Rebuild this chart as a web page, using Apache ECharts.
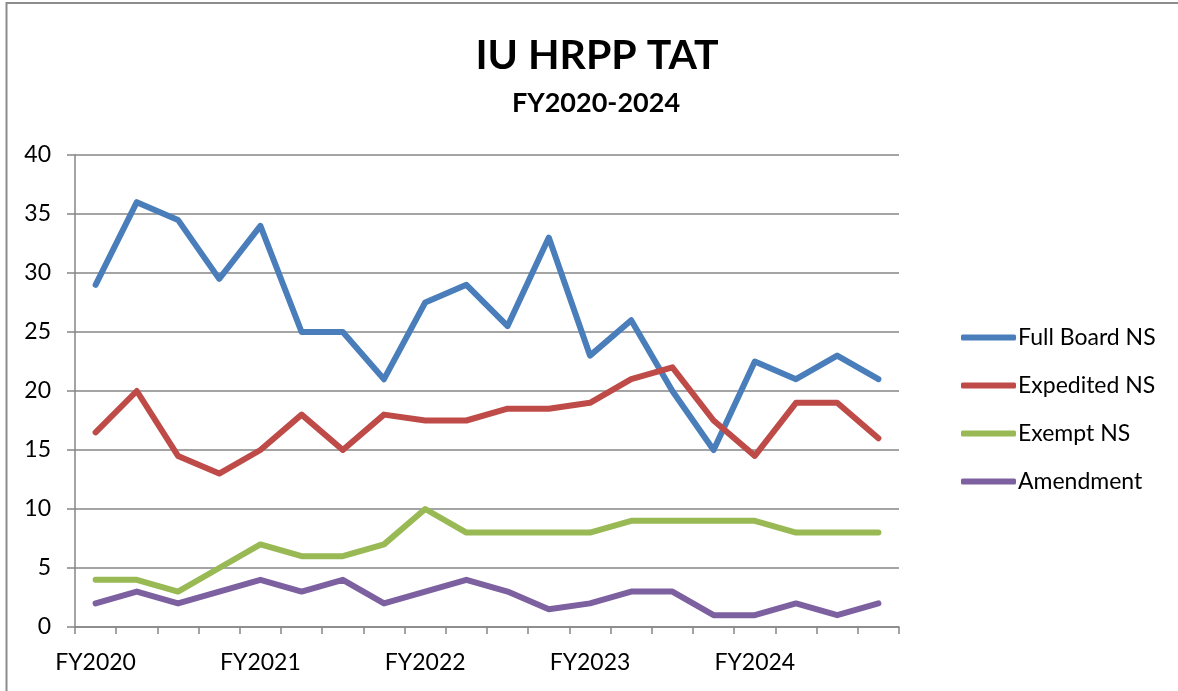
<!DOCTYPE html>
<html>
<head>
    <meta charset="utf-8">
    <title>IU HRPP TAT</title>
    <script src="https://cdn.jsdelivr.net/npm/echarts@6/dist/echarts.min.js"></script>
    <style>
        html, body { margin: 0; padding: 0; background: #fff; }
        #main { width: 1178px; height: 691px; }
    </style>
</head>
<body>
<div id="main"></div>
<script>
    // quarters FY2020 Q1 .. FY2024 Q4
    var quarters = [
        'FY2020 Q1', 'FY2020 Q2', 'FY2020 Q3', 'FY2020 Q4',
        'FY2021 Q1', 'FY2021 Q2', 'FY2021 Q3', 'FY2021 Q4',
        'FY2022 Q1', 'FY2022 Q2', 'FY2022 Q3', 'FY2022 Q4',
        'FY2023 Q1', 'FY2023 Q2', 'FY2023 Q3', 'FY2023 Q4',
        'FY2024 Q1', 'FY2024 Q2', 'FY2024 Q3', 'FY2024 Q4'
    ];
    var fullBoard = [29, 36, 34.5, 29.5, 34, 25, 25, 21, 27.5, 29, 25.5, 33, 23, 26, 20, 15, 22.5, 21, 23, 21];
    var expedited = [16.5, 20, 14.5, 13, 15, 18, 15, 18, 17.5, 17.5, 18.5, 18.5, 19, 21, 22, 17.5, 14.5, 19, 19, 16];
    var exempt = [4, 4, 3, 5, 7, 6, 6, 7, 10, 8, 8, 8, 8, 9, 9, 9, 9, 8, 8, 8];
    var amendment = [2, 3, 2, 3, 4, 3, 4, 2, 3, 4, 3, 1.5, 2, 3, 3, 1, 1, 2, 1, 2];
    var seriesNames = ['Full Board NS', 'Expedited NS', 'Exempt NS', 'Amendment'];

    var font = 'Lato, Carlito, Calibri, sans-serif';
    var gray = '#868686';

    function line(name, data, color) {
        return {
            name: name,
            type: 'line',
            data: data,
            symbol: 'none',
            color: color,
            lineStyle: { width: 6, color: color, cap: 'round', join: 'round' }
        };
    }

    var chart = echarts.init(document.getElementById('main'));
    chart.setOption({
        animation: false,
        textStyle: { fontFamily: font },
        title: [
            {
                text: 'IU HRPP TAT',
                left: 592, top: 30, textAlign: 'center',
                textStyle: { fontFamily: font, fontSize: 41, fontWeight: 'bold', color: '#000' }
            },
            {
                text: 'FY2020-2024',
                left: 591, top: 85, textAlign: 'center',
                textStyle: { fontFamily: font, fontSize: 27, fontWeight: 'bold', color: '#000' }
            }
        ],
        graphic: [{
            type: 'rect',
            shape: { x: 6.5, y: 3, width: 1300, height: 800 },
            style: { fill: 'none', stroke: '#8c8c8c', lineWidth: 2 },
            silent: true
        }],
        legend: {
            orient: 'vertical',
            left: 956, top: 321,
            itemWidth: 55, itemHeight: 6, itemGap: 25,
            icon: 'roundRect',
            textStyle: { fontFamily: font, fontSize: 23, color: '#000', padding: [0, 0, 0, -3] },
            data: seriesNames
        },
        grid: { left: 75, right: 279, top: 155, bottom: 64, containLabel: false },
        xAxis: {
            type: 'category',
            data: quarters,
            boundaryGap: true,
            axisLine: { lineStyle: { color: gray, width: 1.5 } },
            axisTick: { show: true, interval: 0, length: 7, lineStyle: { color: gray, width: 1.5 } },
            axisLabel: {
                interval: 3, margin: 24, fontSize: 23, color: '#000', fontFamily: font,
                formatter: function (v) { return v.split(' ')[0]; }
            },
            splitLine: { show: false }
        },
        yAxis: {
            type: 'value',
            min: 0, max: 40, interval: 5,
            axisLine: { show: true, lineStyle: { color: gray, width: 1.5 } },
            axisTick: { show: true, length: 8, lineStyle: { color: gray, width: 1.5 } },
            axisLabel: { margin: 24, fontSize: 23, color: '#000', fontFamily: font },
            splitLine: { show: true, lineStyle: { color: gray, width: 1.5 } }
        },
        series: [
            line(seriesNames[0], fullBoard, '#4A7EBB'),
            line(seriesNames[1], expedited, '#BE4B48'),
            line(seriesNames[2], exempt, '#98B954'),
            line(seriesNames[3], amendment, '#7D60A0')
        ]
    });
</script>
</body>
</html>
